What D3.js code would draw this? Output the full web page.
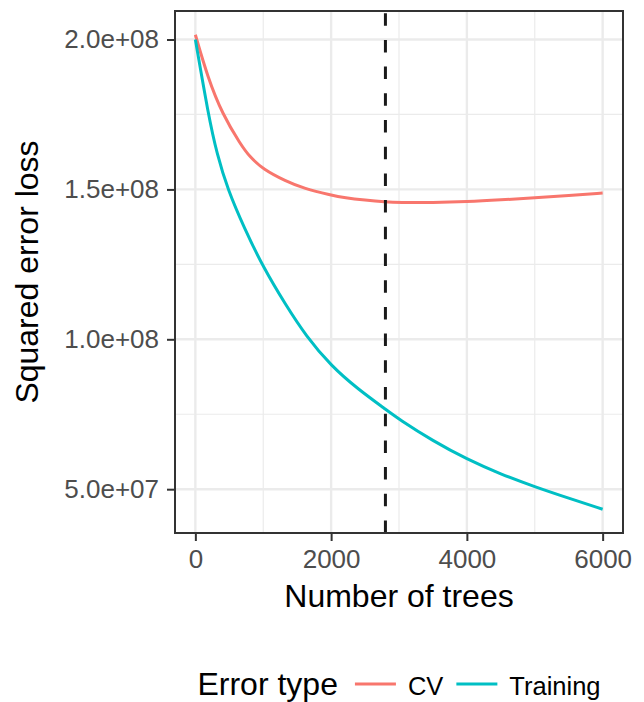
<!DOCTYPE html>
<html>
<head>
<meta charset="utf-8">
<script src="https://cdn.jsdelivr.net/npm/d3@7"></script>
<style>
  body { margin: 0; background: #fff; }
  svg { display: block; font-family: "Liberation Sans", Arial, sans-serif; }
</style>
</head>
<body>
<script>
// Error curves (trees -> squared error loss)
const cvTrees = [0, 180, 400, 670, 800, 1000, 1330, 1600, 2000, 2200, 2500, 2800, 3000, 3500, 4000, 4500, 5000, 5500, 6000];
const cvLoss = [2.016e8, 1.875e8, 1.75e8, 1.649e8, 1.609e8, 1.567e8, 1.528e8, 1.503e8, 1.481e8, 1.472e8, 1.464e8, 1.458e8, 1.456e8, 1.456e8, 1.459e8, 1.465e8, 1.472e8, 1.480e8, 1.488e8];

const trainTrees = [0, 190, 320, 476, 720, 1000, 1330, 1630, 2000, 2400, 2800, 3000, 3500, 4000, 4500, 5000, 5500, 6000];
const trainLoss = [2.0e8, 1.75e8, 1.616e8, 1.50e8, 1.371e8, 1.24e8, 1.115e8, 1.011e8, 0.911e8, 0.833e8, 0.767e8, 0.733e8, 0.661e8, 0.60e8, 0.55e8, 0.508e8, 0.47e8, 0.433e8];

const bestIter = 2800;
const xTicks = [0, 2000, 4000, 6000];
const xMinor = [1000, 3000, 5000];
const yTicks = [5e7, 1e8, 1.5e8, 2e8];
const yMinor = [7.5e7, 1.25e8, 1.75e8];
const seriesNames = ["CV", "Training"];
const seriesColors = ["#F8766D", "#00BFC4"];

const width = 644, height = 702;
const panel = {left: 175, right: 623, top: 11, bottom: 533};

const series = [
  {name: "CV", values: cvTrees.map((t, i) => ({t, v: cvLoss[i]}))},
  {name: "Training", values: trainTrees.map((t, i) => ({t, v: trainLoss[i]}))},
];
const color = d3.scaleOrdinal().domain(seriesNames).range(seriesColors);

// ggplot-like 5% expansion of the data range
function expand([a, b]) { const p = (b - a) * 0.05; return [a - p, b + p]; }
const allT = cvTrees.concat(trainTrees);
const allV = cvLoss.concat(trainLoss);

const x = d3.scaleLinear().domain(expand(d3.extent(allT))).range([panel.left, panel.right]);
const y = d3.scaleLinear().domain(expand(d3.extent(allV))).range([panel.bottom, panel.top]);

const svg = d3.select("body").append("svg")
  .attr("width", width).attr("height", height);

// Grid
const grid = svg.append("g");
grid.selectAll("line.minx").data(xMinor).join("line")
  .attr("x1", d => x(d)).attr("x2", d => x(d))
  .attr("y1", panel.top).attr("y2", panel.bottom)
  .attr("stroke", "#EBEBEB").attr("stroke-width", 1.2);
grid.selectAll("line.miny").data(yMinor).join("line")
  .attr("y1", d => y(d)).attr("y2", d => y(d))
  .attr("x1", panel.left).attr("x2", panel.right)
  .attr("stroke", "#EBEBEB").attr("stroke-width", 1.2);
grid.selectAll("line.majx").data(xTicks).join("line")
  .attr("x1", d => x(d)).attr("x2", d => x(d))
  .attr("y1", panel.top).attr("y2", panel.bottom)
  .attr("stroke", "#EBEBEB").attr("stroke-width", 2.4);
grid.selectAll("line.majy").data(yTicks).join("line")
  .attr("y1", d => y(d)).attr("y2", d => y(d))
  .attr("x1", panel.left).attr("x2", panel.right)
  .attr("stroke", "#EBEBEB").attr("stroke-width", 2.4);

// Lines
const line = d3.line().x(d => x(d.t)).y(d => y(d.v)).curve(d3.curveBasis);
svg.append("g").selectAll("path").data(series).join("path")
  .attr("d", d => line(d.values))
  .attr("fill", "none")
  .attr("stroke", d => color(d.name))
  .attr("stroke-width", 3);

// Best iteration marker (drawn bottom-up so the dash phase matches)
svg.append("line")
  .attr("x1", x(bestIter)).attr("x2", x(bestIter))
  .attr("y1", panel.bottom).attr("y2", panel.top)
  .attr("stroke", "#1A1A1A").attr("stroke-width", 3)
  .attr("stroke-dasharray", "12.5,14.2");

// Panel border
svg.append("rect")
  .attr("x", panel.left).attr("y", panel.top)
  .attr("width", panel.right - panel.left).attr("height", panel.bottom - panel.top)
  .attr("fill", "none").attr("stroke", "#333333").attr("stroke-width", 2);

// Axes
const xAxis = svg.append("g")
  .attr("transform", `translate(0,${panel.bottom})`)
  .call(d3.axisBottom(x).tickValues(xTicks).tickSize(8).tickPadding(9).tickFormat(d3.format("d")));
const yAxis = svg.append("g")
  .attr("transform", `translate(${panel.left},0)`)
  .call(d3.axisLeft(y).tickValues(yTicks).tickSize(8).tickPadding(8)
    .tickFormat(d => d.toExponential(1).replace(/e\+(\d)$/, "e+0$1")));
[xAxis, yAxis].forEach(a => {
  a.select(".domain").remove();
  a.selectAll(".tick line").attr("stroke", "#333333").attr("stroke-width", 2);
  a.selectAll(".tick text").attr("fill", "#4D4D4D").style("font-size", "26px");
});
xAxis.selectAll(".tick text").attr("dy", "0.71em");

// Axis titles
svg.append("text")
  .attr("x", (panel.left + panel.right) / 2).attr("y", 607)
  .attr("text-anchor", "middle").style("font-size", "32px").attr("fill", "#000")
  .text("Number of trees");
svg.append("text")
  .attr("transform", `translate(38,${(panel.top + panel.bottom) / 2}) rotate(-90)`)
  .attr("text-anchor", "middle").style("font-size", "32px").attr("fill", "#000")
  .text("Squared error loss");

// Legend (bottom, centred on the panel)
const legend = svg.append("g");
const legendY = 695;
let cx = 0;
const title = legend.append("text").attr("x", cx).attr("y", legendY)
  .style("font-size", "32px").text("Error type");
cx += title.node().getComputedTextLength() + 17;
seriesNames.forEach((name, i) => {
  legend.append("line")
    .attr("x1", cx).attr("x2", cx + 41)
    .attr("y1", legendY - 11).attr("y2", legendY - 11)
    .attr("stroke", color(name)).attr("stroke-width", 3);
  cx += 41 + 12;
  const t = legend.append("text").attr("x", cx).attr("y", legendY)
    .style("font-size", "25.5px").text(name);
  cx += t.node().getComputedTextLength() + (i < seriesNames.length - 1 ? 13 : 0);
});
legend.attr("transform", `translate(${(panel.left + panel.right) / 2 - cx / 2},0)`);
</script>
</body>
</html>
